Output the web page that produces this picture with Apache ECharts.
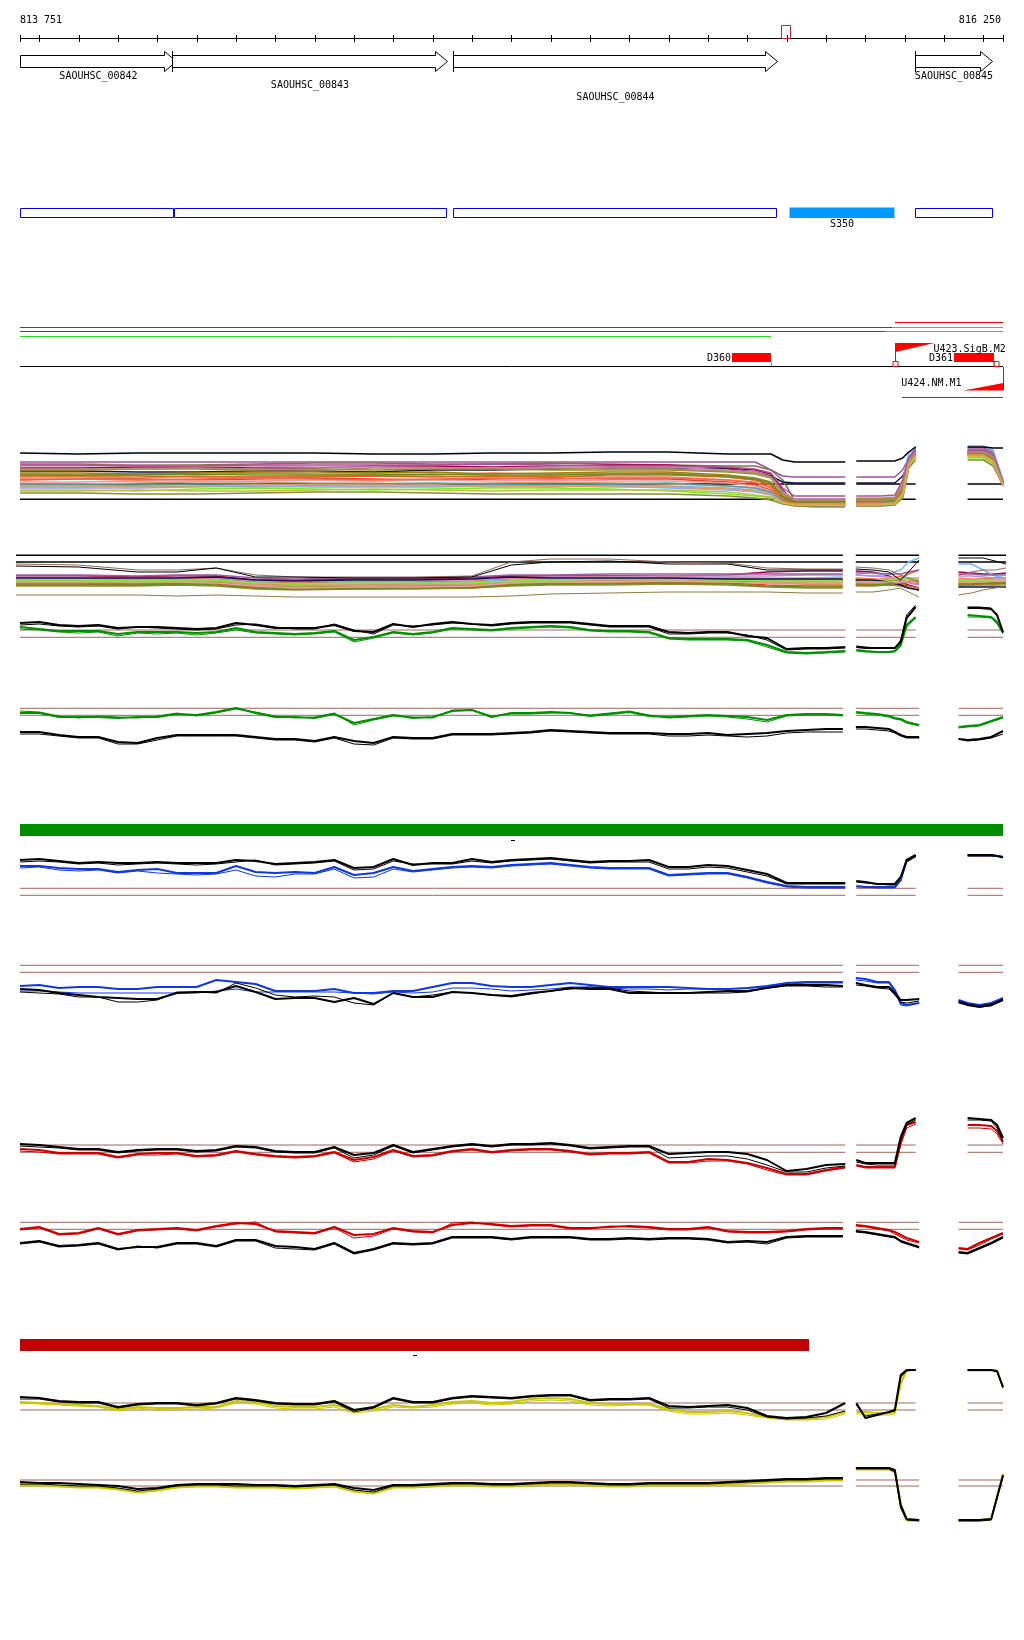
<!DOCTYPE html>
<html><head><meta charset="utf-8">
<script src="https://cdn.jsdelivr.net/npm/echarts@6/dist/echarts.min.js"></script>
<style>html,body{margin:0;padding:0;background:#fff}#c{width:1024px;height:1640px}</style>
</head><body><div id="c"></div>
<script>
// ---------------- data ----------------
const START = 813751, END = 816250;
const rulerLabels = ['813 751', '816 250'];
const rulerLabelPos = [813751, 816250];
const rulerTicks = [813751,813800,813900,814000,814100,814200,814300,814400,814500,814600,814700,814800,814900,815000,815100,815200,815300,815400,815500,815600,815700,815800,815900,816000,816100,816200,816250];
const markerStart = [815686], markerEnd = [815709];

const geneNames = ['SAOUHSC_00842','SAOUHSC_00843','SAOUHSC_00844','SAOUHSC_00845'];
const geneStart = [813751, 814138, 814852, 816027];
const geneEnd   = [814148, 814836, 815675, 816222];
const geneLabelRow = [0, 1, 2, 0];

const boxStart = [813751, 814142, 814852, 815705, 816026];
const boxEnd   = [814139, 814835, 815673, 815973, 816221];
const boxFilled = [0, 0, 0, 1, 0];
const boxLabel = ['', '', '', 'S350', ''];

const tileStart = [815975, 813751, 815967, 813751, 815950, 813751, 815994];
const tileEnd   = [816250, 815967, 816250, 815950, 816250, 815660, 816250];
const tileRow   = [0, 1, 1, 2, 2, 3, 4];
const tileKind  = ['r', 'r', 'g', 'r', 'g', 'g', 'r'];

const featName = ['D360', 'D361'];
const featStart = [815561, 816125];
const featEnd = [815661, 816226];

const promName = ['U423.SigB.M2', 'U424.NM.M1'];
const promPos = [815975, 816249];
const promEnd = [816074, 816148];
const promStrand = [1, -1];

const condStart = [813751, 813751];
const condEnd = [816250, 815756];

// positions of measured probes (null value = no data)
const posA = [813751,813800,813850,813900,813950,814000,814050,814100,814150,814200,814250,814300,814350,814400,814450,814500,814550,814600,814650,814700,814750,814800,814850,814900,814950,815000,815050,815100,815150,815200,815250,815300,815350,815400,815450,815500,815550,815600,815650,815700,815750,815800,815849,815863,815877,815900,815930,815960,815975,815990,816005,816028,816094,816160,816190,816220,816235,816250];
const posB = [813751,813800,813850,813900,813950,814000,814050,814100,814150,814200,814250,814300,814350,814400,814450,814500,814550,814600,814650,814700,814750,814800,814850,814900,814950,815000,815050,815100,815150,815200,815250,815300,815350,815400,815450,815500,815550,815600,815650,815700,815750,815800,815843,815860,815876,815900,815930,815960,815975,815990,816005,816037,816087,816137,816160,816190,816220,816250];
const posT1 = [813751,813900,814050,814200,814350,814500,814650,814800,814950,815100,815250,815400,815550,815620,815660,815690,815720,815780,815849,815863,815877,815940,815975,815995,816010,816028,816094,816160,816200,816225,816250];
const posT2 = [813741,813900,814050,814150,814250,814350,814450,814600,814750,814900,815000,815100,815250,815400,815550,815650,815750,815843,815860,815876,815920,815960,815990,816010,816037,816087,816137,816170,816200,816230,816258];
const segA = [[813751,815849],[815877,816028],[816160,816250]];
const segB = [[813751,815843],[815876,816037],[816137,816250]];
const segT2 = [[813741,815843],[815876,816037],[816137,816258]];

// track 1 (many conditions)
const t1Top = [57,56,57,57,57,57,56,56,57,57,58,58,56,56,56,50,48,48,48,null,49,49,49,52,58,63,null,63,63,62,62];
const t1Refs = [26, 10.7];
const t1Colors = ['#a050a0','#8b6f4e','#a0005a','#141446','#e87830','#f08070','#78b4ff','#78f028','#c88cc8','#c8a078','#a08214','#e04628','#e6a0a0','#a0a0f0','#8c8c3c','#9a8a22','#50a0a0','#d2691e','#ff6347','#6b8e23','#b05090','#c0c040','#b48c64','#e0a060'];
const t1Values = [
[48,48,48,48,48,48,48,48,48,48,48,48,48,48,40,34,33,33,33,null,33,33,33,40,52,62,null,62,62,58,30],
[46,46,45,45,46,47,47,46,46,47,46,45,44,44,40,30,10,8,8,null,8,8,9,20,48,60,null,60,60,56,28],
[42,42,43,43,42,42,44,44,43,44,45,45,42,40,36,20,8,7,7,null,9,9,10,25,50,58,null,58,58,54,27],
[39,39,38,38,39,39,38,40,40,41,42,42,41,38,34,28,27,27,27,null,27,27,27,34,46,55,null,55,55,50,26],
[36,35,36,35,37,36,36,35,37,36,36,37,33,30,25,12,5,5,5,null,6,6,7,15,45,56,null,56,55,50,26],
[33,33,32,34,33,34,35,34,33,34,33,33,30,28,22,10,4,4,5,null,5,5,6,12,42,54,null,54,54,48,25],
[23,23,24,24,23,24,24,24,25,24,24,22,20,18,15,8,6,6,6,null,8,8,9,30,56,64,null,64,64,60,30],
[20,20,19,21,22,21,20,21,22,22,21,19,16,14,12,8,7,7,7,null,7,7,8,18,44,52,null,52,52,46,25],
[44,44,45,44,44,43,43,42,42,43,43,43,40,38,33,18,11,11,11,null,12,12,13,28,51,60,null,60,60,56,28],
[26,26,27,28,28,27,27,26,27,28,27,26,24,22,18,9,6,6,6,null,6,6,7,20,47,57,null,57,57,52,27],
[37,37,36,37,38,38,37,38,36,37,38,38,35,32,28,14,9,9,9,null,10,10,11,22,48,57,null,57,56,52,27],
[30,31,31,30,31,32,31,30,31,32,31,31,28,25,20,10,7,6,6,null,6,6,7,16,46,56,null,56,56,50,26],
[28,28,29,29,29,30,29,30,29,30,29,29,27,24,19,9,5,5,5,null,5,5,6,14,44,55,null,55,55,49,25],
[22,22,22,23,24,23,23,23,24,23,25,24,22,20,17,10,5,4,4,null,4,4,5,18,46,58,null,58,58,52,26],
[17,17,16,16,17,18,18,17,16,16,16,16,14,12,10,6,4,3,3,null,4,4,5,12,42,50,null,50,50,44,24],
[40,40,41,41,40,41,40,41,41,40,40,40,38,36,32,16,10,10,10,null,11,11,12,24,49,58,null,58,58,53,27],
[25,25,25,26,26,25,26,27,26,26,26,27,24,22,18,9,6,6,6,null,7,7,8,20,48,60,null,60,60,55,28],
[34,34,34,33,33,33,34,33,34,33,35,35,33,30,25,11,6,6,6,null,6,6,7,15,45,55,null,55,55,50,26],
[31,31,30,31,32,31,30,31,32,31,32,32,30,27,23,12,8,8,8,null,8,8,9,18,47,57,null,57,57,52,27],
[35,35,35,36,35,35,35,36,35,35,36,36,34,31,27,13,8,8,8,null,9,9,10,20,47,56,null,56,56,51,26],
[45,45,44,44,45,45,45,45,46,45,44,44,43,41,37,22,14,14,14,null,14,14,15,30,52,60,null,60,60,56,28],
[19,19,20,19,19,20,21,20,19,20,20,20,18,15,13,7,5,5,5,null,5,5,6,14,44,53,null,53,53,47,25],
[41,41,41,42,41,40,42,42,42,42,41,41,39,37,33,17,10,10,10,null,10,10,11,23,48,58,null,58,58,53,27],
[24,24,23,24,25,25,25,25,23,24,23,23,21,19,16,8,6,6,6,null,6,6,7,17,45,55,null,55,55,49,25]
];

// track 2
const t2Refs = [44.7, 38];
const t2Black = [34,33,28,28,32,23,23,22,22,23,35,38,39,36,36,30,30,30,null,31,30,28,20,28,40,null,42,42,42,39,36];
const t2Brown = [36,35,30,30,32,25,23,23,23,24,38,41,41,38,37,32,31,31,null,33,32,30,25,22,18,null,25,28,30,30,32];
const t2Olive = [5,5,5,4,5,4,3,3,3,3,4,6,7,8,8,8,7,7,null,8,8,10,12,8,3,null,5,7,10,12,14];
const t2Colors = ['#a0005a','#e87830','#78b4ff','#9a8a22','#f08070','#c88cc8','#e04628','#8c8c3c','#c8a078','#78f028','#a05aa0','#d2691e','#141446','#6b8e23','#e6a0a0'];
const t2Values = [
[24,24,23,24,24,20,20,21,21,22,24,24,24,24,25,28,29,29,null,29,28,24,18,15,12,null,28,27,26,26,27],
[22,22,21,22,21,18,17,18,18,19,21,22,23,23,22,20,20,20,null,22,21,20,22,26,30,null,20,20,21,22,22],
[21,21,20,21,20,17,16,17,17,18,20,21,22,22,23,22,22,23,null,25,24,26,30,38,42,null,36,36,30,24,22],
[18,18,17,18,18,14,13,14,14,15,17,18,19,19,19,18,18,18,null,19,19,19,20,18,16,null,18,18,18,18,18],
[20,19,19,20,19,16,15,15,16,16,19,20,20,21,21,20,21,21,null,21,20,22,24,20,15,null,22,21,21,20,20],
[23,23,22,23,22,19,19,19,20,20,22,23,23,24,24,24,25,25,null,25,24,23,20,17,15,null,24,24,23,22,22],
[16,16,15,16,16,13,12,12,13,13,15,16,17,17,17,15,14,14,null,16,15,15,16,18,20,null,15,15,16,16,17],
[14,14,14,15,14,11,10,11,11,12,14,15,15,16,15,13,12,12,null,14,14,15,14,12,10,null,14,15,15,15,15],
[19,19,18,19,19,15,14,15,15,16,18,19,19,20,20,19,19,19,null,20,20,21,21,22,22,null,19,19,19,19,20],
[20,20,19,20,20,17,16,17,17,17,19,20,21,21,20,19,19,19,null,20,20,20,21,21,20,null,20,20,20,20,20],
[25,25,24,25,25,22,21,22,22,23,25,25,26,26,26,26,26,26,null,27,27,26,26,28,30,null,26,26,25,25,25],
[17,17,16,17,17,12,11,12,12,13,16,17,17,18,18,17,16,16,null,17,17,17,16,14,12,null,16,16,17,17,17],
[22,22,22,22,23,20,19,20,20,21,23,22,22,22,21,21,21,21,null,20,20,18,15,12,10,null,13,13,13,13,13],
[15,15,15,16,15,12,11,11,12,12,15,16,16,17,16,14,13,13,null,15,15,16,17,18,18,null,16,16,17,17,17],
[18,18,18,18,17,14,12,13,13,14,17,18,18,19,18,17,17,17,null,18,18,18,18,18,18,null,18,18,18,19,19]
];

// tracks 3..10 (two replicate pairs each)
const t3Black1 = [37,38,35,34,35,32,33,33,32,31,32,37,35,32,32,32,35,29,28,36,33,36,38,36,35,37,38,38,38,36,34,34,34,28,27,28,28,24,22,11,12,12,13,null,13,12,12,12,12,18,42,53,null,52,52,51,45,28];
const t3Black2 = [35,36,34,33,34,31,33,32,31,30,31,35,36,33,31,31,36,30,26,35,34,35,37,36,34,36,37,37,37,35,33,33,33,26,26,27,27,25,20,10,11,11,12,null,14,13,12,12,12,20,45,55,null,53,53,52,44,27];
const t3Green1 = [33,31,29,29,29,26,28,28,28,27,28,32,28,27,26,27,29,20,23,28,26,28,32,31,30,32,33,34,33,30,29,29,28,22,21,21,21,20,15,8,7,8,9,null,10,9,8,8,9,15,35,43,null,45,44,43,38,28];
const t3Green2 = [31,30,28,27,28,24,27,26,27,25,27,30,27,26,25,26,28,18,22,27,25,27,31,30,29,31,32,33,32,29,28,28,27,21,20,20,20,19,13,7,6,7,8,null,9,8,8,8,8,14,33,42,null,43,43,42,36,26];
const t3Refs = [30, 22.7];

const t4Green1 = [37,37,33,33,33,32,33,33,36,35,38,42,37,33,33,32,36,27,31,35,32,33,39,40,33,37,37,38,37,34,36,38,34,33,34,35,34,33,30,35,36,36,35,null,38,37,36,34,32,31,28,25,null,23,24,25,29,33];
const t4Green2 = [39,38,34,32,34,33,32,34,37,34,37,41,38,34,32,33,37,25,30,34,33,32,40,40,34,36,36,37,37,35,37,39,35,32,33,34,33,31,28,34,35,35,34,null,37,36,35,33,31,30,27,24,null,22,23,24,28,32];
const t4Black1 = [18,18,15,13,13,8,7,12,15,15,15,15,13,11,11,9,13,9,7,13,12,12,16,16,16,17,18,20,19,18,17,17,17,16,16,17,15,16,17,19,20,21,21,null,23,23,22,21,18,15,13,13,null,11,10,11,13,19];
const t4Black2 = [16,16,14,12,12,6,6,10,14,14,14,14,12,10,10,8,12,6,5,12,11,11,15,15,15,16,17,19,18,17,16,16,16,14,14,15,14,13,14,17,18,18,18,null,21,21,20,19,17,14,12,12,null,11,9,10,12,16];
const t4Refs = [41.7, 34.7];

const t5Black1 = [40,41,39,37,38,37,37,38,37,37,37,40,39,36,37,38,40,32,33,41,35,37,37,41,38,40,41,42,40,38,39,39,40,33,33,35,34,30,26,17,17,17,17,null,19,18,16,16,16,23,40,45,null,45,45,45,44,43];
const t5Black2 = [38,39,38,36,37,35,36,37,36,35,36,38,40,35,36,37,39,30,31,39,36,36,36,39,37,39,40,41,39,37,38,38,38,31,31,33,32,28,24,16,16,16,16,null,18,17,16,15,15,22,38,44,null,44,44,44,44,42];
const t5Blue1 = [34,34,32,31,31,28,30,31,27,27,27,34,28,27,28,27,33,25,27,33,29,31,33,34,33,35,36,37,35,33,32,32,32,25,26,27,27,23,18,14,13,13,13,null,14,13,13,13,13,20,40,44,null,45,45,45,44,43];
const t5Blue2 = [32,33,30,29,30,27,29,27,26,25,26,30,24,23,26,26,31,22,23,31,28,30,32,33,32,34,35,36,34,32,31,31,31,24,25,26,26,22,17,13,12,12,12,null,13,13,12,12,12,19,38,43,null,44,44,44,44,42];
const t5Refs = [11.7, 4.7];

const t6Blue1 = [24,25,22,23,23,21,21,23,23,23,30,28,26,19,19,19,21,17,17,19,19,23,27,27,24,23,23,25,27,25,23,23,23,23,22,21,21,22,24,27,28,28,28,null,32,31,28,28,20,7,5,7,null,10,7,5,7,12];
const t6Blue2 = [19,19,18,17,17,17,17,17,17,17,19,21,18,18,18,18,18,17,16,18,17,18,22,22,21,19,20,21,23,23,22,21,21,20,21,21,21,22,23,26,27,27,27,null,30,29,27,27,18,5,4,7,null,7,5,3,4,10];
const t6Black1 = [21,20,17,15,13,12,11,11,17,18,18,24,18,11,12,12,8,12,6,17,13,13,18,17,15,14,17,19,22,21,21,17,17,17,17,18,19,19,22,25,25,25,24,null,27,25,23,23,17,10,10,11,null,8,5,3,5,10];
const t6Black2 = [18,17,16,13,13,8,8,10,18,18,17,27,22,15,13,14,13,7,5,17,13,15,18,17,15,13,16,19,21,23,22,19,18,17,17,17,17,18,22,24,24,23,23,null,25,24,22,21,15,8,7,9,null,9,6,4,6,11];
const t6Refs = [44.7, 37.7];

const t7Black1 = [36,35,33,31,31,28,30,31,31,29,30,34,33,29,28,28,33,25,27,35,28,31,34,36,34,36,36,37,35,32,33,34,34,26,27,28,28,26,20,9,11,15,16,null,20,17,17,17,17,43,57,62,null,62,61,60,55,42];
const t7Black2 = [34,33,32,30,30,27,29,30,30,28,29,33,32,28,27,27,32,22,25,34,27,30,33,35,33,35,35,36,34,31,32,33,33,22,23,24,24,21,15,8,8,12,14,null,18,16,15,15,15,40,55,60,null,60,60,59,52,38];
const t7Red1 = [31,30,27,27,27,23,26,27,27,24,25,29,26,24,23,24,28,20,23,30,24,25,29,31,28,30,31,31,29,26,27,27,28,18,18,21,20,17,12,6,6,10,13,null,15,13,13,13,13,38,55,58,null,55,55,54,49,39];
const t7Red2 = [29,28,26,26,26,22,25,25,26,23,24,28,25,23,22,23,27,18,21,29,23,24,28,30,27,29,30,30,28,25,26,26,27,17,17,19,19,16,10,5,5,9,12,null,14,12,12,12,12,35,52,56,null,52,52,51,46,36];
const t7Refs = [35, 27.7];

const t8Red1 = [31,33,26,27,32,26,30,31,32,30,34,37,36,29,28,27,33,25,26,32,29,28,35,37,36,34,35,35,32,32,33,34,33,31,31,33,29,28,28,29,31,32,32,null,35,34,32,30,28,25,22,18,null,12,11,17,22,27];
const t8Red2 = [30,32,25,26,31,25,29,30,31,29,33,36,38,28,27,26,32,22,24,31,28,27,37,38,35,33,34,34,31,31,34,33,32,30,30,32,28,27,27,28,30,31,31,null,34,33,31,29,26,23,20,17,null,11,10,15,21,26];
const t8Black1 = [17,19,14,15,17,11,13,13,17,17,14,20,20,14,13,11,17,7,11,17,16,17,23,23,23,21,23,23,23,21,21,22,21,22,22,21,18,19,18,23,24,24,24,null,29,28,26,24,23,19,17,13,null,8,7,12,17,23];
const t8Black2 = [16,18,13,14,16,10,14,12,16,16,13,19,19,12,11,10,16,6,10,16,15,16,22,22,22,20,22,22,22,20,20,21,20,21,21,20,17,18,16,22,23,23,23,null,28,27,25,23,22,18,16,12,null,7,6,11,16,22];
const t8Refs = [37.7, 30.7];

const t9Black1 = [28,27,24,23,23,18,21,22,22,20,22,27,25,22,21,21,24,15,18,27,23,23,27,29,28,27,29,30,30,25,26,26,27,19,18,19,20,17,9,7,8,12,22,null,22,7,10,13,15,50,55,55,null,55,55,55,54,38];
const t9Black2 = [26,26,23,22,22,17,20,21,21,19,21,26,24,21,20,20,23,13,17,26,22,22,26,28,27,26,28,29,29,24,25,25,26,17,17,18,18,15,8,6,7,9,14,null,20,9,11,13,14,48,54,55,null,55,55,55,53,37];
const t9Yellow1 = [23,22,21,20,19,16,18,17,17,18,18,24,23,19,18,18,20,15,16,20,18,20,23,24,22,23,26,27,26,22,21,21,21,16,13,13,14,12,8,6,6,8,13,null,13,13,12,12,13,42,55,55,null,55,55,55,54,38];
const t9Yellow2 = [22,21,20,19,18,14,17,15,16,16,17,22,21,17,16,16,18,12,14,18,17,18,21,22,20,21,24,25,24,20,19,20,20,14,11,11,12,10,7,5,5,6,11,null,11,11,10,10,11,40,54,55,null,54,54,54,53,36];
const t9Refs = [22, 15];

const t10Black1 = [48,47,47,46,45,44,41,42,45,46,46,46,45,45,44,45,46,42,40,45,45,46,47,47,46,46,47,48,48,47,46,46,47,47,47,47,48,49,50,51,51,52,52,null,62,62,62,62,60,25,11,10,null,10,10,10,11,55];
const t10Black2 = [46,46,45,44,44,42,39,41,44,45,45,44,44,44,43,44,45,40,38,44,44,45,46,46,45,45,46,47,47,46,45,45,46,46,46,46,47,48,49,50,50,51,51,null,61,61,61,61,58,22,10,9,null,9,9,9,10,53];
const t10Yellow1 = [45,45,44,43,43,41,38,40,43,44,44,43,43,43,42,43,44,39,37,43,43,44,45,45,44,44,45,46,46,45,44,44,45,45,45,45,46,47,48,49,49,50,50,null,62,62,62,62,59,24,10,10,null,10,10,10,11,56];
const t10Yellow2 = [44,44,43,42,42,40,37,39,42,43,43,42,42,42,41,42,43,38,36,42,42,43,44,44,43,43,44,45,45,44,43,43,44,44,44,44,45,46,47,48,48,49,49,null,60,60,60,60,57,21,9,9,null,9,9,9,10,54];
const t10Refs = [50, 44];

// ---------------- chart ----------------
const C_BLACK = '#000000', C_GREEN = '#009000', C_BLUE = '#1038e0', C_RED = '#cc0000', C_YEL = '#c8c800', C_REF = '#a0665f';
const FONT = "10px 'DejaVu Sans Mono', monospace";
const option = { animation: false, backgroundColor: '#ffffff', grid: [], xAxis: [], yAxis: [], series: [] };

function addGrid(top, height, left, right, xmin, xmax, ymax, inverse) {
  const idx = option.grid.length;
  option.grid.push({ left: left, right: right, top: top, height: height, show: false });
  option.xAxis.push({ type: 'value', gridIndex: idx, min: xmin, max: xmax, show: false });
  option.yAxis.push({ type: 'value', gridIndex: idx, min: 0, max: ymax, inverse: !!inverse, show: false });
  return idx;
}
function zip(pos, vals) { return pos.map((p, i) => [p, vals[i] == null ? '-' : vals[i]]); }
function addLine(g, pos, vals, color, width, z) {
  option.series.push({ type: 'line', xAxisIndex: g, yAxisIndex: g, data: zip(pos, vals), showSymbol: false, symbol: 'none',
    connectNulls: false, silent: true, z: z || 2, lineStyle: { color: color, width: width }, itemStyle: { color: color } });
}
function addRefs(g, segs, levels, color, width) {
  levels.forEach(lv => {
    const d = [];
    segs.forEach(s => { d.push([s[0], lv], [s[1], lv], [s[1] + 1, '-']); });
    option.series.push({ type: 'line', xAxisIndex: g, yAxisIndex: g, data: d, showSymbol: false, symbol: 'none',
      connectNulls: false, silent: true, z: 1, lineStyle: { color: color, width: width || 1 } });
  });
}

// annotation layer (pixel rows as layout)
const A = addGrid(0, 1640, 20, 21, START, END, 1640, true);
const px = (api, v) => Math.round(api.coord([v, 0])[0]);
function custom(data, render, z) {
  option.series.push({ type: 'custom', xAxisIndex: A, yAxisIndex: A, data: data, renderItem: render, clip: false, silent: true, z: z || 5 });
}
// ruler
custom([[START, END]], (p, api) => ({ type: 'line', shape: { x1: px(api, api.value(0)), y1: 38.5, x2: px(api, api.value(1)), y2: 38.5 }, style: { stroke: '#000', lineWidth: 1 } }));
custom(rulerTicks.map(t => [t]), (p, api) => { const x = px(api, api.value(0)) + 0.5; return { type: 'line', shape: { x1: x, y1: 35, x2: x, y2: 42 }, style: { stroke: '#000', lineWidth: 1 } }; });
custom(rulerLabelPos.map((v, i) => [v, i]), (p, api) => {
  const i = api.value(1); const x = px(api, api.value(0)) + (i === 0 ? 0 : -2);
  return { type: 'text', style: { text: rulerLabels[i], x: x, y: 20, font: FONT, fill: '#000', textAlign: i === 0 ? 'left' : 'right', textVerticalAlign: 'middle' } };
});
custom(markerStart.map((s, i) => [s, markerEnd[i]]), (p, api) => {
  const x0 = px(api, api.value(0)) + 0.5, x1 = px(api, api.value(1)) + 0.5;
  return { type: 'rect', shape: { x: x0, y: 25.5, width: x1 - x0, height: 13 }, style: { stroke: '#c02828', fill: 'none', lineWidth: 1 } };
}, 6);
// genes
const geneRowY = [76, 85, 97];
custom(geneStart.map((s, i) => [s, geneEnd[i], i]), (p, api) => {
  const i = api.value(2); const x0 = px(api, api.value(0)) + 0.5, x1 = px(api, api.value(1)) + 0.5; const h = 12;
  const ch = [{ type: 'polygon', shape: { points: [[x0, 55.5], [x1 - h, 55.5], [x1 - h, 51.5], [x1, 61.5], [x1 - h, 71.5], [x1 - h, 67.5], [x0, 67.5]] }, style: { stroke: '#000', fill: '#fff', lineWidth: 1 } }];
  if (api.value(0) > START) ch.push({ type: 'line', shape: { x1: x0, y1: 51, x2: x0, y2: 72 }, style: { stroke: '#000', lineWidth: 1 } });
  ch.push({ type: 'text', style: { text: geneNames[i], x: (x0 + x1) / 2, y: geneRowY[geneLabelRow[i]], font: FONT, fill: '#000', textAlign: 'center', textVerticalAlign: 'middle' } });
  return { type: 'group', children: ch };
});
// boxes
custom(boxStart.map((s, i) => [s, boxEnd[i], i]), (p, api) => {
  const i = api.value(2); const x0 = px(api, api.value(0)) + 0.5, x1 = px(api, api.value(1)) + 0.5;
  const ch = [];
  if (boxFilled[i]) ch.push({ type: 'rect', shape: { x: x0, y: 207.5, width: x1 - x0, height: 10.5 }, style: { fill: '#0099ff' } });
  else ch.push({ type: 'rect', shape: { x: x0, y: 208.5, width: x1 - x0, height: 9 }, style: { stroke: '#0000dd', fill: 'none', lineWidth: 1 } });
  if (boxLabel[i]) ch.push({ type: 'text', style: { text: boxLabel[i], x: (x0 + x1) / 2, y: 224, font: FONT, fill: '#000', textAlign: 'center', textVerticalAlign: 'middle' } });
  return { type: 'group', children: ch };
});
// tiling lines
const tileRowY = [322.5, 327.5, 331.5, 336.5, 397.5];
custom(tileStart.map((s, i) => [s, tileEnd[i], i]), (p, api) => {
  const i = api.value(2); const y = tileRowY[tileRow[i]];
  return { type: 'line', shape: { x1: px(api, api.value(0)), y1: y, x2: px(api, api.value(1)), y2: y }, style: { stroke: tileKind[i] === 'r' ? '#ff0000' : '#22dd22', lineWidth: 1 } };
});
// baseline
custom([[START, END]], (p, api) => ({ type: 'line', shape: { x1: px(api, api.value(0)), y1: 366.5, x2: px(api, api.value(1)), y2: 366.5 }, style: { stroke: '#000', lineWidth: 1 } }));
// features
custom(featStart.map((s, i) => [s, featEnd[i], i]), (p, api) => {
  const i = api.value(2); const x0 = px(api, api.value(0)), x1 = px(api, api.value(1));
  return { type: 'group', children: [
    { type: 'rect', shape: { x: x0, y: 353, width: x1 - x0, height: 9 }, style: { fill: '#ff0000' } },
    { type: 'line', shape: { x1: x1 + 0.5, y1: 362, x2: x1 + 0.5, y2: 366 }, style: { stroke: '#999', lineWidth: 1 } },
    { type: 'text', style: { text: featName[i], x: x0 - 1, y: 358, font: FONT, fill: '#000', textAlign: 'right', textVerticalAlign: 'middle' } }
  ] };
});
// promoters
custom(promPos.map((s, i) => [s, promEnd[i], i]), (p, api) => {
  const i = api.value(2); const x0 = px(api, api.value(0)) + 0.5, x1 = px(api, api.value(1)) + 0.5;
  if (promStrand[i] > 0) {
    return { type: 'group', children: [
      { type: 'line', shape: { x1: x0, y1: 343, x2: x0, y2: 362 }, style: { stroke: '#ff0000', lineWidth: 1 } },
      { type: 'polygon', shape: { points: [[x0, 343], [x1, 343], [x0, 352]] }, style: { fill: '#ff0000' } },
      { type: 'rect', shape: { x: x0 - 2.5, y: 361.5, width: 5, height: 5 }, style: { stroke: '#ff0000', fill: 'none', lineWidth: 1 } },
      { type: 'text', style: { text: promName[i], x: x1 - 1, y: 349, font: FONT, fill: '#000', textAlign: 'left', textVerticalAlign: 'middle' } }
    ] };
  }
  return { type: 'group', children: [
    { type: 'line', shape: { x1: x0, y1: 367, x2: x0, y2: 390 }, style: { stroke: '#ff0000', lineWidth: 1 } },
    { type: 'polygon', shape: { points: [[x0, 390.5], [x1, 390.5], [x0, 383]] }, style: { fill: '#ff0000' } },
    { type: 'rect', shape: { x: x0 - 9.5, y: 361.5, width: 5, height: 5 }, style: { stroke: '#ff0000', fill: 'none', lineWidth: 1 } },
    { type: 'text', style: { text: promName[i], x: x1 - 2, y: 383, font: FONT, fill: '#000', textAlign: 'right', textVerticalAlign: 'middle' } }
  ] };
});
// condition bars
const condTop = [824, 1339];
const condColors = ['#008c00', '#c00000'];
custom(condStart.map((s, i) => [s, condEnd[i], i]), (p, api) => {
  const i = api.value(2); const x0 = px(api, api.value(0)), x1 = px(api, api.value(1)); const mid = px(api, (api.value(0) + api.value(1)) / 2);
  return { type: 'group', children: [
    { type: 'rect', shape: { x: x0, y: condTop[i], width: x1 - x0, height: 12 }, style: { fill: condColors[i] } },
    { type: 'rect', shape: { x: mid - 1, y: condTop[i] + 16, width: 4, height: 1 }, style: { fill: '#000' } }
  ] };
});

// track 1
const g1 = addGrid(440, 70, 20, 21, START, END, 70);
addRefs(g1, segA, t1Refs, C_BLACK, 1.5);
t1Values.forEach((v, i) => addLine(g1, posT1, v, t1Colors[i], 1.5, 2));
addLine(g1, posT1, t1Top, C_BLACK, 1.5, 3);

// track 2
const g2 = addGrid(550, 50, 16, 18, 813741, 816258, 50);
addRefs(g2, segT2, t2Refs, C_BLACK, 1.5);
t2Values.forEach((v, i) => addLine(g2, posT2, v, t2Colors[i], 1.5, 2));
addLine(g2, posT2, t2Olive, '#8c7c46', 1, 3);
addLine(g2, posT2, t2Brown, '#8b6a5a', 1, 3);
addLine(g2, posT2, t2Black, C_BLACK, 1, 3);

// replicate-pair tracks
function pairTrack(top, h, pos, segs, refs, a1, a2, b1, b2, colA, colB) {
  const g = addGrid(top, h, 20, 21, START, END, h);
  addRefs(g, segs, refs, C_REF, 1);
  addLine(g, pos, b2, colB, 1, 2);
  addLine(g, pos, b1, colB, 2, 2);
  addLine(g, pos, a2, colA, 1, 3);
  addLine(g, pos, a1, colA, 2, 3);
}
pairTrack(600, 60, posA, segA, t3Refs, t3Black1, t3Black2, t3Green1, t3Green2, C_BLACK, C_GREEN);
pairTrack(700, 50, posB, segB, t4Refs, t4Black1, t4Black2, t4Green1, t4Green2, C_BLACK, C_GREEN);
pairTrack(850, 50, posA, segA, t5Refs, t5Black1, t5Black2, t5Blue1, t5Blue2, C_BLACK, C_BLUE);
pairTrack(960, 50, posB, segB, t6Refs, t6Black1, t6Black2, t6Blue1, t6Blue2, C_BLACK, C_BLUE);
pairTrack(1110, 70, posA, segA, t7Refs, t7Black1, t7Black2, t7Red1, t7Red2, C_BLACK, C_RED);
pairTrack(1215, 45, posB, segB, t8Refs, t8Black1, t8Black2, t8Red1, t8Red2, C_BLACK, C_RED);
pairTrack(1360, 65, posA, segA, t9Refs, t9Black1, t9Black2, t9Yellow1, t9Yellow2, C_BLACK, C_YEL);
pairTrack(1460, 70, posB, segB, t10Refs, t10Black1, t10Black2, t10Yellow1, t10Yellow2, C_BLACK, C_YEL);

const chart = echarts.init(document.getElementById('c'), null, { renderer: 'canvas' });
chart.setOption(option);
</script>
</body></html>
